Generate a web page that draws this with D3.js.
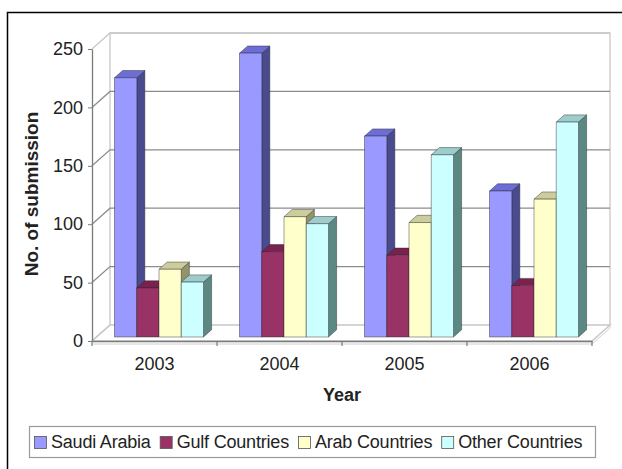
<!DOCTYPE html>
<html>
<head>
<meta charset="utf-8">
<script src="https://cdn.jsdelivr.net/npm/d3@7"></script>
<style>
  body { margin: 0; background: #fff; }
  text { font-family: Arial, "Liberation Sans", sans-serif; fill: #222; }
</style>
</head>
<body>
<div class="chart"></div>
<script>
// data
let years = ['2003', '2004', '2005', '2006'];
let series = ['Saudi Arabia', 'Gulf Countries', 'Arab Countries', 'Other Countries'];
let saudi = [222, 243, 172, 125];
let gulf = [42, 73, 70, 44];
let arab = [58, 103, 98, 118];
let other = [47, 97, 156, 184];
let yTicks = [0, 50, 100, 150, 200, 250];

let values = [saudi, gulf, arab, other];

// front, top, side colours per series
let colors = [
	{front: '#9999ff', top: '#6d6dd6', side: '#4a4a8e'},
	{front: '#993366', top: '#7a2150', side: '#5c1c3c'},
	{front: '#ffffcc', top: '#cdcc9c', side: '#94946c'},
	{front: '#ccffff', top: '#9ccccc', side: '#5c8884'}
];

let W = 622, H = 469;
let DX = 18, DY = -16;        // depth of the box
let f0 = 0.25, f1 = 0.70;     // depth range of bars

let svg = d3.select('.chart')
	.append('svg')
	.attr('width', W)
	.attr('height', H);

let y = d3.scaleLinear()
	.domain([0, 250])
	.range([341, 49]);

let x0 = d3.scaleBand()
	.domain(years)
	.range([92, 592]);

let gap = 18;
let x1 = d3.scaleBand()
	.domain(series)
	.range([gap, x0.bandwidth() - gap]);

// outer frame (left and top edges)
svg.append('path')
	.attr('d', 'M7.5,469 L7.5,12.5 L622,12.5')
	.style('fill', 'none')
	.style('stroke', '#000')
	.style('stroke-width', 1.5);

let x0L = x0.range()[0], x0R = x0.range()[1];

// back wall
svg.append('path')
	.attr('d', 'M' + (x0L + DX) + ',' + (y(0) + DY) + ' L' + (x0L + DX) + ',' + (y(250) + DY) +
		' L' + (x0R + DX) + ',' + (y(250) + DY) + ' L' + (x0R + DX) + ',' + (y(0) + DY))
	.style('fill', '#fff')
	.style('stroke', '#cfcfcf')
	.style('stroke-width', 1.5);

// floor
svg.append('path')
	.attr('d', 'M' + x0L + ',' + y(0) + ' L' + x0R + ',' + y(0) + ' L' + (x0R + DX) + ',' + (y(0) + DY) +
		' L' + (x0L + DX) + ',' + (y(0) + DY) + 'Z')
	.style('fill', '#fff')
	.style('stroke', '#c8c8c8')
	.style('stroke-width', 1.5);
svg.append('path')
	.attr('d', 'M' + x0L + ',' + (y(0) + 3) + ' L' + x0R + ',' + (y(0) + 3) + ' L' + (x0R + DX) + ',' + (y(0) + DY + 3) +
		' L' + (x0R + DX) + ',' + (y(0) + DY))
	.style('fill', 'none')
	.style('stroke', '#d0d0d0')
	.style('stroke-width', 1);

// gridlines on side and back walls
let grid = svg.append('g');
yTicks.filter(d => d > 0).forEach(function(v) {
	grid.append('path')
		.attr('d', 'M' + x0L + ',' + y(v) + ' L' + (x0L + DX) + ',' + (y(v) + DY) +
			' L' + (x0R + DX) + ',' + (y(v) + DY))
		.style('fill', 'none')
		.style('stroke', v === 250 ? '#c8c8c8' : '#8c8c8c')
		.style('stroke-width', 1.3);
});
grid.append('path')
	.attr('d', 'M' + x0L + ',' + y(0) + ' L' + (x0L + DX) + ',' + (y(0) + DY))
	.style('fill', 'none')
	.style('stroke', '#c8c8c8')
	.style('stroke-width', 1.3);

// y axis
let yAxis = d3.axisLeft(y)
	.tickValues(yTicks)
	.tickSizeInner(4)
	.tickSizeOuter(0)
	.tickPadding(5);

let ya = svg.append('g')
	.attr('transform', 'translate(' + x0L + ',0)')
	.call(yAxis);
ya.select('.domain').style('stroke', '#7a7a7a').style('stroke-width', 1.3);
ya.selectAll('line').style('stroke', '#7a7a7a');
ya.selectAll('text')
	.style('font-size', '18px')
	.style('fill', '#222')
	.style('font-family', 'Arial, "Liberation Sans", sans-serif');

// x axis
let xAxis = d3.axisBottom(x0)
	.tickSize(0)
	.tickPadding(16);

let xa = svg.append('g')
	.attr('transform', 'translate(0,' + y(0) + ')')
	.call(xAxis);
xa.select('.domain').style('stroke', '#7a7a7a').style('stroke-width', 1.3);
xa.selectAll('text')
	.style('font-size', '18px')
	.style('fill', '#222')
	.style('font-family', 'Arial, "Liberation Sans", sans-serif');

// category separator ticks
svg.append('g')
	.selectAll('line')
	.data(years.map(d => x0(d)).concat([x0R]))
	.enter()
	.append('line')
	.attr('x1', d => d).attr('x2', d => d)
	.attr('y1', y(0)).attr('y2', y(0) + 5)
	.style('stroke', '#7a7a7a')
	.style('stroke-width', 1.2);

// bars, drawn left to right
let bx = f0 * DX, by = f0 * DY;
let ddx = (f1 - f0) * DX, ddy = (f1 - f0) * DY;
let bars = svg.append('g');

years.forEach(function(yr, i) {
	series.forEach(function(s, j) {
		let v = values[j][i];
		let xl = x0(yr) + x1(s) + bx;
		let xr = xl + x1.bandwidth();
		let yt = y(v) + by;
		let yb = y(0) + by;
		let c = colors[j];
		let g = bars.append('g')
			.style('stroke', 'rgba(40,40,40,0.55)')
			.style('stroke-width', 0.8)
			.style('stroke-linejoin', 'round');
		// side
		g.append('path')
			.attr('d', 'M' + xr + ',' + yb + ' L' + xr + ',' + yt + ' L' + (xr + ddx) + ',' + (yt + ddy) +
				' L' + (xr + ddx) + ',' + (yb + ddy) + 'Z')
			.style('fill', c.side);
		// top
		g.append('path')
			.attr('d', 'M' + xl + ',' + yt + ' L' + xr + ',' + yt + ' L' + (xr + ddx) + ',' + (yt + ddy) +
				' L' + (xl + ddx) + ',' + (yt + ddy) + 'Z')
			.style('fill', c.top);
		// front
		g.append('rect')
			.attr('x', xl)
			.attr('y', yt)
			.attr('width', xr - xl)
			.attr('height', yb - yt)
			.style('fill', c.front);
	});
});

// axis titles
svg.append('text')
	.attr('x', 342)
	.attr('y', 395)
	.attr('text-anchor', 'middle')
	.attr('dominant-baseline', 'central')
	.style('font-size', '18px')
	.style('font-weight', 'bold')
	.text('Year');

svg.append('text')
	.attr('transform', 'translate(31,194) rotate(-90)')
	.attr('text-anchor', 'middle')
	.attr('dominant-baseline', 'central')
	.style('font-size', '19px')
	.style('font-weight', 'bold')
	.text('No. of submission');

// legend
let legend = svg.append('g');
legend.append('rect')
	.attr('x', 29.5)
	.attr('y', 426.5)
	.attr('width', 566)
	.attr('height', 31)
	.style('fill', '#fff')
	.style('stroke', '#9a9a9a')
	.style('stroke-width', 1.2);

let lx = 34;
series.forEach(function(s, j) {
	legend.append('rect')
		.attr('x', lx + 0.5)
		.attr('y', 436.5)
		.attr('width', 12)
		.attr('height', 12)
		.style('fill', colors[j].front)
		.style('stroke', '#555')
		.style('stroke-width', 0.8);
	let t = legend.append('text')
		.attr('x', lx + 17)
		.attr('y', 442)
		.attr('dominant-baseline', 'central')
		.style('font-size', '18px')
		.style('letter-spacing', '-0.2px')
		.text(s);
	lx += 17 + t.node().getComputedTextLength() + 9;
});
</script>
</body>
</html>
